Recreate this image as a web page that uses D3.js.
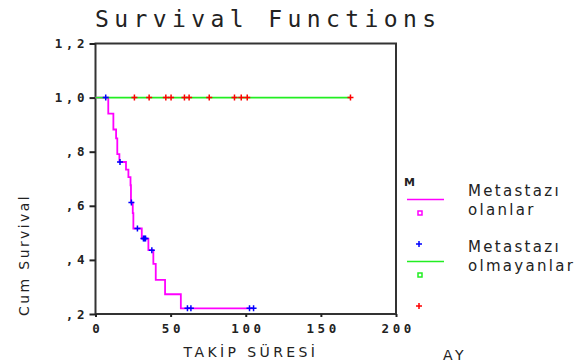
<!DOCTYPE html>
<html>
<head>
<meta charset="utf-8">
<script src="https://cdn.jsdelivr.net/npm/d3@7"></script>
<style>
  body { margin: 0; background: #fff; }
  svg { display: block; }
</style>
</head>
<body>
<div class="chart"></div>
<script>
// step function for "Metastazı olanlar" (time in months, cumulative survival)
const olanTimes = [0, 8.5, 11.9, 13.7, 14.5, 15.9, 20.3, 21.9, 23.3, 23.6, 24.8, 25.2, 30.8, 35.2, 38.5, 40.1, 46.3, 56.8, 105.2];
const olanSurv = [1, 0.941, 0.882, 0.849, 0.791, 0.762, 0.734, 0.706, 0.676, 0.612, 0.573, 0.516, 0.479, 0.436, 0.385, 0.326, 0.273, 0.221, 0.221];
const olanCensored = [6.8, 16.3, 23.9, 27.9, 31.9, 32.6, 33.3, 37.5, 61.2, 63.5, 102.5, 105.2];

// "Metastazı olmayanlar": no events, only censored cases
const olmayanTimes = [0, 169.7];
const olmayanSurv = [1, 1];
const olmayanCensored = [25.9, 35.7, 46.8, 50.3, 59.2, 62.3, 75.7, 92.5, 97, 101, 169.7];

const xTicks = [0, 50, 100, 150, 200];
const yTicks = [0.2, 0.4, 0.6, 0.8, 1.0, 1.2];
const legendLabels = [['Metastazı', 'olanlar'], ['Metastazı', 'olmayanlar']];

const width = 581, height = 363;
const plotL = 95.5, plotR = 396, plotT = 43.5, plotB = 314;

const svg = d3.select('.chart').append('svg')
  .attr('width', width)
  .attr('height', height);

const x = d3.scaleLinear().domain([0, 200]).range([plotL, plotR]);
const y = d3.scaleLinear().domain([0.2, 1.2]).range([plotB, plotT]);

// title
svg.append('text')
  .attr('x', 95)
  .attr('y', 27)
  .attr('font-family', 'DejaVu Sans Mono')
  .attr('font-size', 23)
  .attr('letter-spacing', 5.4)
  .attr('fill', '#222')
  .text('Survival Functions');

// frame
svg.append('rect')
  .attr('x', plotL).attr('y', plotT)
  .attr('width', plotR - plotL).attr('height', plotB - plotT)
  .attr('fill', 'none')
  .attr('stroke', '#333')
  .attr('stroke-width', 2);

const yFmt = v => v >= 1 ? v.toFixed(1).replace('.', ',') : ',' + Math.round(v * 10);

const yAxis = svg.append('g')
  .attr('transform', `translate(${plotL},0)`)
  .call(d3.axisLeft(y).tickValues(yTicks).tickSize(6).tickPadding(5).tickFormat(yFmt));

const xAxis = svg.append('g')
  .attr('transform', `translate(0,${plotB})`)
  .call(d3.axisBottom(x).tickValues(xTicks).tickSize(3).tickPadding(7));

[yAxis, xAxis].forEach(g => {
  g.select('.domain').remove();
  g.selectAll('.tick line').attr('stroke', '#222').attr('stroke-width', 2);
  g.selectAll('.tick text')
    .attr('font-family', 'DejaVu Sans Mono')
    .attr('font-weight', 'bold')
    .attr('font-size', 12.5)
    .attr('letter-spacing', 3.6)
    .attr('fill', '#222');
});
yAxis.selectAll('.tick text').attr('dx', 3.6);
xAxis.selectAll('.tick text').attr('dx', 1.8);

// axis titles
svg.append('text')
  .attr('transform', 'translate(29,255) rotate(-90)')
  .attr('text-anchor', 'middle')
  .attr('font-family', 'DejaVu Sans')
  .attr('font-size', 14)
  .attr('letter-spacing', 2.4)
  .attr('fill', '#222')
  .text('Cum Survival');

svg.append('text')
  .attr('x', 251)
  .attr('y', 357)
  .attr('text-anchor', 'middle')
  .attr('font-family', 'DejaVu Sans')
  .attr('font-size', 14)
  .attr('letter-spacing', 3.4)
  .attr('fill', '#222')
  .text('TAKİP SÜRESİ');

svg.append('text')
  .attr('x', 443)
  .attr('y', 360)
  .attr('font-family', 'DejaVu Sans')
  .attr('font-size', 14)
  .attr('letter-spacing', 3.4)
  .attr('fill', '#222')
  .text('AY');

// survival curves
const line = d3.line()
  .x(d => x(d[0]))
  .y(d => y(d[1]))
  .curve(d3.curveStepAfter);

svg.append('path')
  .attr('d', line(d3.zip(olanTimes, olanSurv)))
  .attr('fill', 'none')
  .attr('stroke', '#ff00ff')
  .attr('stroke-width', 1.8);

svg.append('path')
  .attr('d', line(d3.zip(olmayanTimes, olmayanSurv)))
  .attr('fill', 'none')
  .attr('stroke', '#22ee22')
  .attr('stroke-width', 1.6);

// censored cases as plus marks
const survAt = (times, surv, t) => surv[d3.bisectRight(times, t) - 1];
const plus = (g, cx, cy, color) => {
  g.append('path')
    .attr('d', `M${cx - 3},${cy}H${cx + 3}M${cx},${cy - 3}V${cy + 3}`)
    .attr('stroke', color)
    .attr('stroke-width', 1.5)
    .attr('fill', 'none');
};

const marks = svg.append('g');
olmayanCensored.forEach(t => plus(marks, x(t), y(survAt(olmayanTimes, olmayanSurv, t)), '#ff0000'));
olanCensored.forEach(t => plus(marks, x(t), y(survAt(olanTimes, olanSurv, t)), '#0000ff'));

// legend
const lg = svg.append('g');
lg.append('text')
  .attr('x', 404).attr('y', 186)
  .attr('font-family', 'DejaVu Sans')
  .attr('font-weight', 'bold')
  .attr('font-size', 11)
  .attr('fill', '#222')
  .text('M');

const legendColors = [['#ff00ff', '#0000ff'], ['#22ee22', '#ff0000']];
legendColors.forEach((c, i) => {
  const oy = i * 62;
  lg.append('line')
    .attr('x1', 407).attr('x2', 444)
    .attr('y1', 199.5 + oy).attr('y2', 199.5 + oy)
    .attr('stroke', c[0]).attr('stroke-width', 1.5);
  lg.append('rect')
    .attr('x', 418).attr('y', 211 + oy)
    .attr('width', 4).attr('height', 4)
    .attr('fill', 'none')
    .attr('stroke', c[0]).attr('stroke-width', 1.5);
  plus(lg, 419, 244 + oy, c[1]);
  const t = lg.append('text')
    .attr('font-family', 'DejaVu Sans')
    .attr('font-size', 15)
    .attr('letter-spacing', 2.3)
    .attr('fill', '#222');
  legendLabels[i].forEach((s, j) => {
    t.append('tspan')
      .attr('x', 468)
      .attr('y', 196 + oy * 0.903 + j * 19)
      .text(s);
  });
});
</script>
</body>
</html>
